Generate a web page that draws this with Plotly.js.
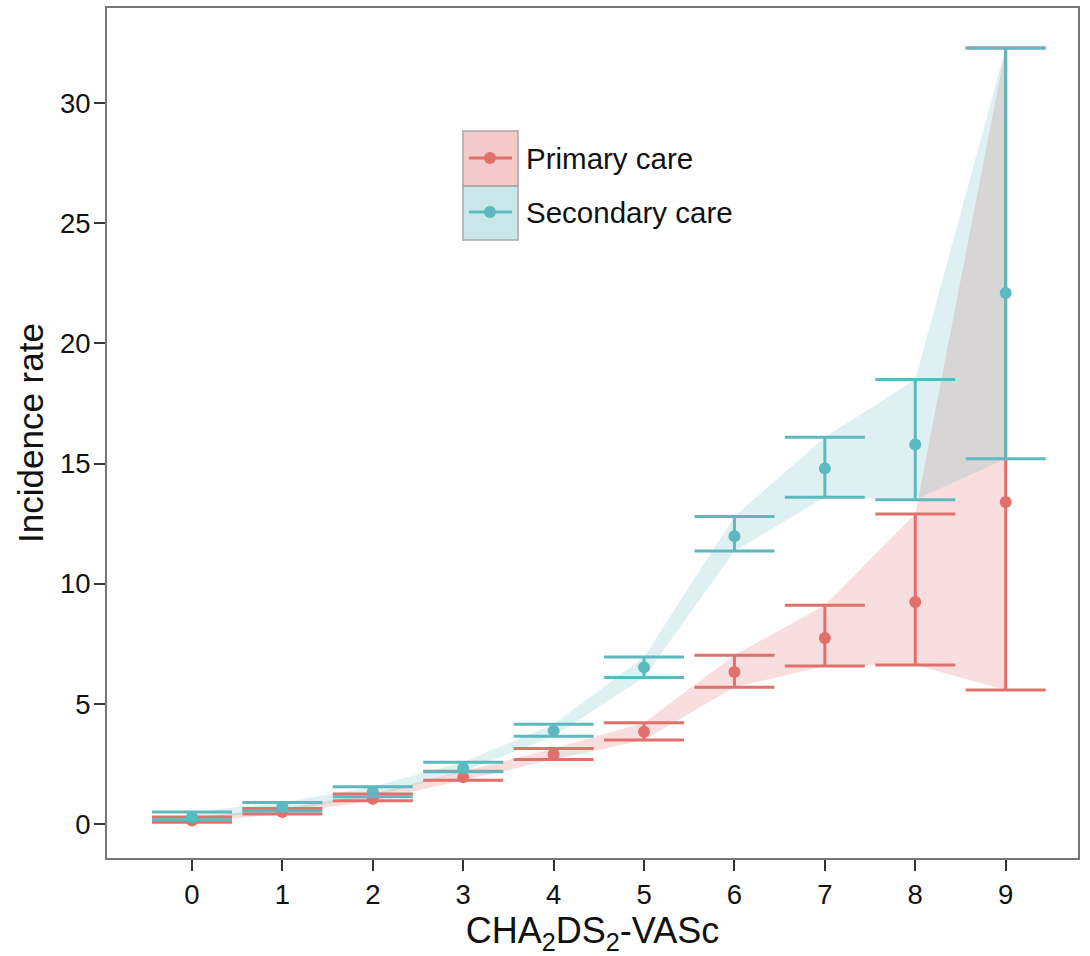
<!DOCTYPE html>
<html>
<head>
<meta charset="utf-8">
<script src="https://cdn.plot.ly/plotly-3.0.1.min.js"></script>
<style>
html,body{margin:0;padding:0;background:#fff;}
#chart{width:1090px;height:956px;}
</style>
</head>
<body>
<div id="chart"></div>
<script>
// CHA2DS2-VASc score categories
const scores = [0, 1, 2, 3, 4, 5, 6, 7, 8, 9];
const yTicks = [0, 5, 10, 15, 20, 25, 30];

// Primary care: incidence rate with lower / upper confidence limits
const primaryRate  = [0.15, 0.50, 1.05, 1.95, 2.91, 3.84, 6.33, 7.74, 9.24, 13.40];
const primaryLower = [0.08, 0.42, 0.97, 1.83, 2.69, 3.50, 5.70, 6.58, 6.62, 5.58];
const primaryUpper = [0.30, 0.65, 1.25, 2.20, 3.15, 4.22, 7.03, 9.11, 12.90, 32.30];

// Secondary care
const secondaryRate  = [0.30, 0.72, 1.35, 2.32, 3.88, 6.53, 11.98, 14.80, 15.80, 22.10];
const secondaryLower = [0.18, 0.55, 1.14, 2.18, 3.66, 6.10, 11.36, 13.60, 13.50, 15.20];
const secondaryUpper = [0.50, 0.90, 1.55, 2.57, 4.16, 6.95, 12.80, 16.10, 18.50, 32.30];

const seriesNames = ['Primary care', 'Secondary care'];

const RED = '#E2706A';
const TEAL = '#5CB9C0';
const RED_FILL = 'rgba(220,90,90,0.2)';
const TEAL_FILL = 'rgba(90,180,185,0.2)';
const FONT = 'Liberation Sans, Arial, Helvetica, sans-serif';

function ribbon(lower, upper, fill) {
  return {
    type: 'scatter', mode: 'lines',
    x: scores.concat(scores.slice().reverse()),
    y: upper.concat(lower.slice().reverse()),
    fill: 'toself', fillcolor: fill,
    line: {width: 0}, hoverinfo: 'skip', showlegend: false
  };
}
function points(rate, lower, upper, color, name) {
  return {
    type: 'scatter', mode: 'markers', name: name,
    x: scores, y: rate,
    marker: {color: color, size: 12},
    error_y: {
      type: 'data', symmetric: false,
      array: upper.map((u, i) => u - rate[i]),
      arrayminus: rate.map((r, i) => r - lower[i]),
      color: color, thickness: 3, width: 40
    },
    showlegend: false
  };
}

const data = [
  ribbon(primaryLower, primaryUpper, RED_FILL),
  ribbon(secondaryLower, secondaryUpper, TEAL_FILL),
  points(primaryRate, primaryLower, primaryUpper, RED, seriesNames[0]),
  points(secondaryRate, secondaryLower, secondaryUpper, TEAL, seriesNames[1])
];

// manual legend (paper coordinates)
const legX0 = 0.3666, legX1 = 0.4233;
const legRows = [
  {y0: 0.7906, y1: 0.8553, yc: 0.8235, fill: 'rgba(220,90,90,0.33)', color: RED},
  {y0: 0.7271, y1: 0.7906, yc: 0.7600, fill: 'rgba(90,180,185,0.33)', color: TEAL}
];
const shapes = [];
const annotations = [];
legRows.forEach((r, i) => {
  shapes.push({type: 'rect', xref: 'paper', yref: 'paper', x0: legX0, x1: legX1, y0: r.y0, y1: r.y1,
    fillcolor: r.fill, line: {color: 'rgba(170,170,170,0.8)', width: 2}, layer: 'above'});
  shapes.push({type: 'line', xref: 'paper', yref: 'paper', x0: 0.3728, x1: 0.4171, y0: r.yc, y1: r.yc,
    line: {color: r.color, width: 3}, layer: 'above'});
  shapes.push({type: 'circle', xref: 'paper', yref: 'paper', xsizemode: 'pixel', ysizemode: 'pixel',
    xanchor: 0.3944, yanchor: r.yc, x0: -6, x1: 6, y0: -6, y1: 6,
    fillcolor: r.color, line: {width: 0}, layer: 'above'});
  annotations.push({xref: 'paper', yref: 'paper', x: 0.4295, y: r.yc, xanchor: 'left', yanchor: 'middle',
    text: seriesNames[i], showarrow: false, font: {family: FONT, size: 29.5, color: '#111'}});
});

const axisCommon = {
  showgrid: false, zeroline: false,
  showline: true, mirror: true, linecolor: '#777', linewidth: 2,
  ticks: 'outside', ticklen: 11, tickwidth: 2, tickcolor: '#333',
  tickfont: {family: FONT, size: 27.5, color: '#111'}
};

const layout = {
  width: 1090, height: 956,
  margin: {l: 107, r: 12, t: 8, b: 98},
  paper_bgcolor: '#fff', plot_bgcolor: '#fff',
  font: {family: FONT},
  showlegend: false,
  xaxis: Object.assign({}, axisCommon, {
    range: [-0.94, 9.80], tickmode: 'array', tickvals: scores, ticktext: scores.map(String),
    title: {text: 'CHA<sub>2</sub>DS<sub>2</sub>-VASc', font: {family: FONT, size: 36, color: '#111'}, standoff: 8}
  }),
  yaxis: Object.assign({}, axisCommon, {
    range: [-1.41, 33.96], tickmode: 'array', tickvals: yTicks, ticktext: yTicks.map(String),
    ticklabelstandoff: -2,
    title: {text: 'Incidence rate', font: {family: FONT, size: 35, color: '#111'}, standoff: 6}
  }),
  shapes: shapes,
  annotations: annotations
};

Plotly.newPlot('chart', data, layout, {displayModeBar: false, staticPlot: true});
</script>
</body>
</html>
